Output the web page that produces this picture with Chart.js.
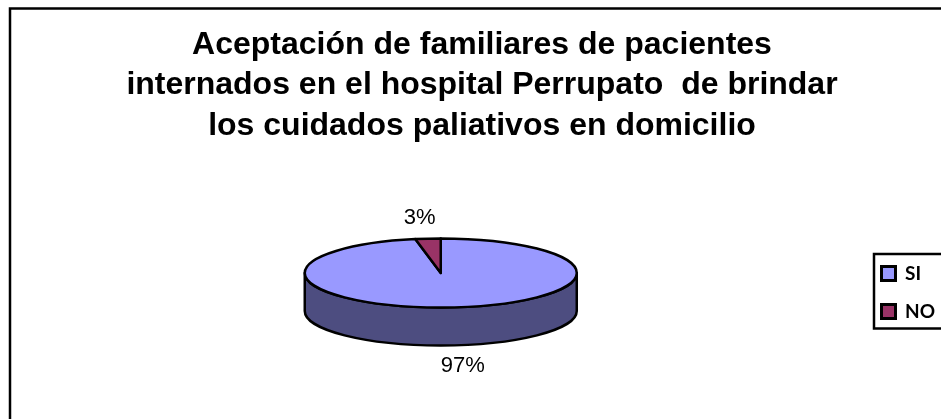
<!DOCTYPE html>
<html><head><meta charset="utf-8">
<style>html,body{margin:0;padding:0;background:#fff}#w{width:941px;height:419px;position:relative}</style>
<script src="https://cdn.jsdelivr.net/npm/chart.js@4"></script>
</head><body><div id="w"><canvas id="c" width="941" height="419"></canvas></div>
<script>
const categories = ['SI', 'NO'];
const values = [97, 3];
const valueLabels = ['97%', '3%'];
const titleLines = ['Aceptación de familiares de pacientes', 'internados en el hospital Perrupato  de brindar', 'los cuidados paliativos en domicilio'];
const topColors = ['#9999FF', '#993366'];
const sideColors = ['#4D4D80', '#4D1A33'];

const TILT = 34.5 / 136, DEPTH = 38;
const labelOffsets = [[22, 93], [-21, -55]];

const pie3d = {
  id: 'pie3d',
  afterLayout(chart) {
    const lg = chart.legend;
    lg.left = 862.5; lg.right = 941; lg.width = 78.5; lg.top = 245; lg.bottom = 381; lg.height = 136;
  },
  beforeDraw(chart) {
    const ctx = chart.ctx;
    ctx.save();
    ctx.fillStyle = '#fff';
    ctx.fillRect(0, 0, chart.width, chart.height);
    ctx.strokeStyle = '#000';
    ctx.lineWidth = 2.5;
    ctx.strokeRect(10, 8.5, 1000, 1000);
    ctx.strokeRect(874, 254, 100, 74.5);
    ctx.restore();
  },
  beforeDatasetDraw(chart, args) {
    const ctx = chart.ctx;
    const arcs = chart.getDatasetMeta(args.index).data;
    ctx.save();
    ctx.lineWidth = 2.5;
    ctx.strokeStyle = '#000';
    ctx.lineJoin = 'round';
    const TAU = Math.PI * 2;
    arcs.forEach((arc, i) => {
      const {x, y, outerRadius: rx, startAngle, endAngle} = arc.getProps(['x', 'y', 'outerRadius', 'startAngle', 'endAngle'], true);
      const ry = rx * TILT;
      for (const shift of [-TAU, 0, TAU]) {
        const a = Math.max(startAngle + shift, 0), b = Math.min(endAngle + shift, Math.PI);
        if (b <= a) continue;
        ctx.beginPath();
        ctx.ellipse(x, y, rx, ry, 0, a, b);
        ctx.lineTo(x + rx * Math.cos(b), y + ry * Math.sin(b) + DEPTH);
        ctx.ellipse(x, y + DEPTH, rx, ry, 0, b, a, true);
        ctx.closePath();
        ctx.fillStyle = sideColors[i];
        ctx.fill();
        ctx.stroke();
      }
    });
    arcs.forEach((arc, i) => {
      const {x, y, outerRadius: rx, startAngle, endAngle} = arc.getProps(['x', 'y', 'outerRadius', 'startAngle', 'endAngle'], true);
      ctx.beginPath();
      ctx.moveTo(x, y);
      ctx.ellipse(x, y, rx, rx * TILT, 0, startAngle, endAngle);
      ctx.closePath();
      ctx.fillStyle = topColors[i];
      ctx.fill();
      ctx.stroke();
    });
    ctx.fillStyle = '#000';
    ctx.font = '22px "Liberation Sans", Arial, sans-serif';
    ctx.textAlign = 'center';
    ctx.textBaseline = 'middle';
    arcs.forEach((arc, i) => {
      ctx.fillText(valueLabels[i], arc.x + labelOffsets[i][0], arc.y + labelOffsets[i][1]);
    });
    ctx.restore();
    return false;
  }
};

new Chart(document.getElementById('c'), {
  type: 'pie',
  data: {
    labels: categories,
    datasets: [{data: values, backgroundColor: topColors, borderColor: '#000', borderWidth: 0}]
  },
  options: {
    responsive: false,
    animation: false,
    radius: 136,
    events: [],
    layout: {padding: {left: 23, right: 0, top: 0, bottom: 19.5}},
    plugins: {
      tooltip: {enabled: false},
      title: {
        display: true,
        text: titleLines,
        color: '#000',
        font: {family: '"Liberation Sans", Arial, sans-serif', size: 32, weight: 'bold', lineHeight: 1.27},
        padding: {top: 24.5, bottom: 0}
      },
      legend: {
        display: true,
        position: 'right',
        align: 'start',
        labels: {
          color: '#000',
          font: {family: 'Lato, sans-serif', size: 19, weight: 'bold'},
          boxWidth: 14, boxHeight: 14, padding: 19,
          generateLabels: () => categories.map((t, i) => ({text: t, fillStyle: topColors[i], strokeStyle: '#000', lineWidth: 3, fontColor: '#000', index: i}))
        }
      }
    }
  },
  plugins: [pie3d]
});
</script></body></html>
